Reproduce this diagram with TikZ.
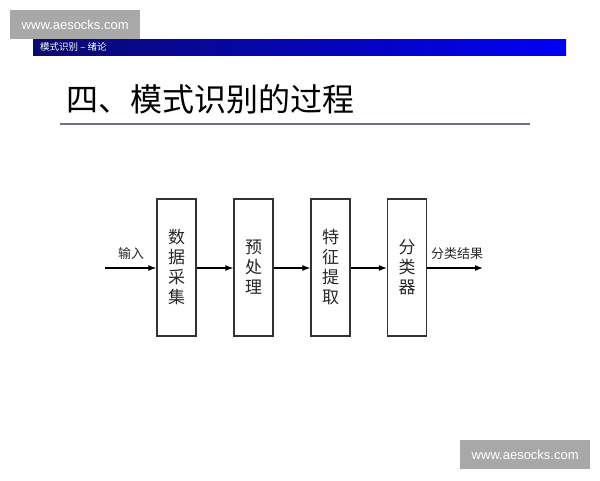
\documentclass[tikz,border=0pt]{standalone}
\usepackage{fontspec}
\setmainfont{Liberation Sans}
\newfontfamily\cjk{Noto Sans CJK SC}
\usetikzlibrary{arrows.meta,positioning}
\definecolor{wmgray}{RGB}{168,168,168}
\definecolor{barleft}{RGB}{10,10,110}
\definecolor{barright}{RGB}{0,0,245}
\definecolor{rulecol}{RGB}{110,110,150}
\definecolor{boxline}{RGB}{50,50,50}
\definecolor{boxtext}{RGB}{40,40,40}
\tikzset{
  stagebox/.style={draw=boxline, line width=1.3pt, minimum width=39pt, minimum height=137pt, inner sep=0pt, align=center, font=\cjk\fontsize{17}{20}\selectfont, text=boxtext},
  flow/.style={-{Latex[length=8pt,width=6pt]}, line width=1.2pt, black},
  flowlabel/.style={font=\cjk\fontsize{13}{15}\selectfont, text=boxtext, inner sep=0pt},
  watermark/.style={fill=wmgray, text=white, font=\fontsize{13}{15}\selectfont, inner sep=0pt, anchor=north west}
}
\begin{document}
\begin{tikzpicture}[x=1pt,y=-1pt]
\useasboundingbox (0,0) rectangle (600,480);
\fill[white] (0,0) rectangle (600,480);
% header bar
\shade[left color=barleft, right color=barright] (33,39) rectangle (566,55);
\node[anchor=west, inner sep=0pt, text=white, font=\cjk\fontsize{9.5}{11}\selectfont] (hdr) at (40,47) {模式识别 – 绪论};
% watermarks
\node[watermark, minimum width=130pt, minimum height=29pt] (wm1) at (10,10) {www.aesocks.com};
\node[watermark, minimum width=130pt, minimum height=29pt] (wm2) at (460,440) {www.aesocks.com};
% title
\node[anchor=west, inner sep=0pt, font=\cjk\fontsize{32}{36}\selectfont, text=black] (title) at (66,99) {四、模式识别的过程};
\draw[rulecol, line width=1.8pt] (60,124) -- (530,124);
% stages
\node[stagebox] (b1) at (176.5,267.5) {数\\据\\采\\集};
\node[stagebox] (b2) at (253.5,267.5) {预\\处\\理};
\node[stagebox] (b3) at (330.5,267.5) {特\\征\\提\\取};
\node[stagebox] (b4) at (407,267.5) {分\\类\\器};
\coordinate (in) at (105,268);
\coordinate (out) at (483,268);
\draw[flow] (in) -- (in -| b1.west);
\draw[flow] (b1.east |- in) -- (b2.west |- in);
\draw[flow] (b2.east |- in) -- (b3.west |- in);
\draw[flow] (b3.east |- in) -- (b4.west |- in);
\draw[flow] (b4.east |- in) -- (out);
\node[flowlabel] (lin) at (131,254) {输入};
\node[flowlabel] (lout) at (457,254) {分类结果};
\end{tikzpicture}
\end{document}
